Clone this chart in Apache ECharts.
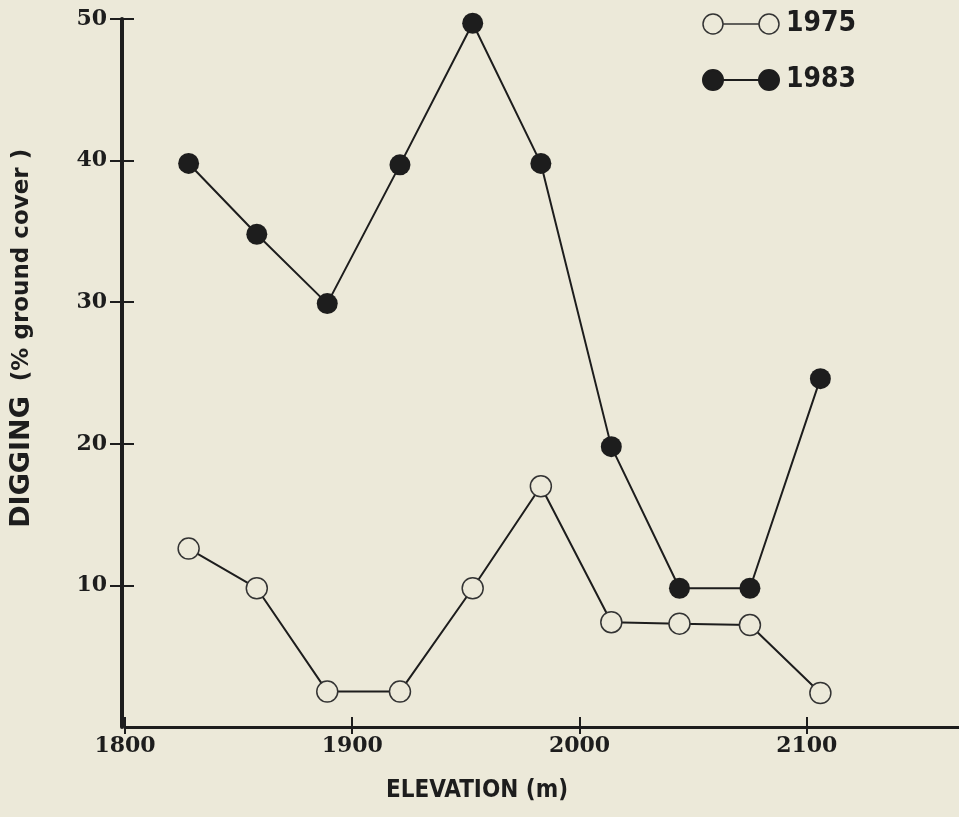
<!DOCTYPE html>
<html>
<head>
<meta charset="utf-8">
<script src="https://cdn.jsdelivr.net/npm/echarts@6/dist/echarts.min.js"></script>
<style>
html, body { margin: 0; padding: 0; background: #ece9d9; }
#chart { width: 959px; height: 817px; }
</style>
</head>
<body>
<div id="chart"></div>
<script>
// data
var elevation = [1828, 1858, 1889, 1921, 1953, 1983, 2014, 2044, 2075, 2106];
var dig1975 = [12.6, 9.8, 2.5, 2.5, 9.8, 17.0, 7.4, 7.3, 7.2, 2.4];
var dig1983 = [39.8, 34.8, 29.9, 39.7, 49.7, 39.8, 19.8, 9.8, 9.8, 24.6];
var xTicks = [1800, 1900, 2000, 2100];
var yTicks = [10, 20, 30, 40, 50];

var bg = '#ece9d9';
var ink = '#1d1d1d';
var condSans = '"DejaVu Sans Condensed", "DejaVu Sans", sans-serif';
var wideSans = '"DejaVu Sans", sans-serif';

function pairs(ys) {
    return elevation.map(function (x, i) { return [x, ys[i]]; });
}

// two circles joined by a line, as in the printed key
var keyIcon = 'path://M0,10a10,10 0 1,0 20,0a10,10 0 1,0 -20,0zM56,10a10,10 0 1,0 20,0a10,10 0 1,0 -20,0zM20,10L56,10';

var myChart = echarts.init(document.getElementById('chart'));

var xBase = {
    type: 'value',
    min: 1800,
    max: 2167,
    position: 'bottom',
    splitLine: { show: false }
};
var yBase = {
    type: 'value',
    min: 0,
    max: 50,
    position: 'left',
    offset: 3,
    splitLine: { show: false }
};

var option = {
    backgroundColor: bg,
    animation: false,
    grid: { left: 125, right: 0, top: 19, bottom: 90, containLabel: false },
    xAxis: [
        Object.assign({}, xBase, {
            axisLine: { lineStyle: { color: ink, width: 3 } },
            axisTick: { customValues: xTicks, length: 7, lineStyle: { color: ink, width: 2 } },
            axisLabel: {
                customValues: xTicks, margin: 8, color: ink,
                formatter: function (v) { return String(v); },
                fontFamily: '"DejaVu Serif", serif', fontWeight: 'bold', fontSize: 22
            }
        }),
        Object.assign({}, xBase, {
            axisLine: { show: false },
            axisTick: { customValues: xTicks, inside: true, length: 10, lineStyle: { color: ink, width: 2 } },
            axisLabel: { show: false }
        })
    ],
    yAxis: [
        Object.assign({}, yBase, {
            axisLine: { show: true, lineStyle: { color: ink, width: 4 } },
            axisTick: { show: true, customValues: yTicks, length: 12, lineStyle: { color: ink, width: 2 } },
            axisLabel: {
                customValues: yTicks, margin: 15, color: ink,
                fontFamily: '"DejaVu Serif", serif', fontWeight: 'bold', fontSize: 22
            }
        }),
        Object.assign({}, yBase, {
            axisLine: { show: false },
            axisTick: { show: true, customValues: yTicks, inside: true, length: 12, lineStyle: { color: ink, width: 2 } },
            axisLabel: { show: false }
        })
    ],
    legend: {
        orient: 'vertical',
        left: 702,
        top: 10,
        padding: 0,
        itemWidth: 76,
        itemHeight: 20,
        itemGap: 28,
        selectedMode: false,
        textStyle: {
            color: ink, fontFamily: condSans, fontWeight: 'bold', fontSize: 28,
            lineHeight: 28, padding: [0, 0, 0, 2]
        },
        data: [
            { name: '1975', icon: keyIcon, itemStyle: { color: bg, borderColor: '#333', borderWidth: 1.5 } },
            { name: '1983', icon: keyIcon, itemStyle: { color: ink, borderColor: ink, borderWidth: 2 } }
        ]
    },
    graphic: [
        {
            type: 'text', x: 22, y: 462, rotation: Math.PI / 2,
            style: {
                text: 'DIGGING', fill: ink, font: 'bold 27px ' + wideSans,
                textAlign: 'center', textVerticalAlign: 'middle'
            }
        },
        {
            type: 'text', x: 22, y: 265, rotation: Math.PI / 2,
            style: {
                text: '(% ground cover )', fill: ink, font: 'bold 23px ' + wideSans,
                textAlign: 'center', textVerticalAlign: 'middle'
            }
        },
        {
            type: 'text', x: 477, y: 791,
            style: {
                text: 'ELEVATION (m)', fill: ink, font: 'bold 24px ' + condSans,
                textAlign: 'center', textVerticalAlign: 'middle'
            }
        }
    ],
    series: [
        {
            name: '1975',
            type: 'line',
            data: pairs(dig1975),
            symbol: 'circle',
            symbolSize: 21,
            lineStyle: { color: ink, width: 2 },
            itemStyle: { color: bg, borderColor: '#333', borderWidth: 1.5 },
            z: 3
        },
        {
            name: '1983',
            type: 'line',
            data: pairs(dig1983),
            symbol: 'circle',
            symbolSize: 21,
            lineStyle: { color: ink, width: 2 },
            itemStyle: { color: ink, borderColor: ink, borderWidth: 0 },
            z: 4
        }
    ]
};

myChart.setOption(option);
</script>
</body>
</html>
